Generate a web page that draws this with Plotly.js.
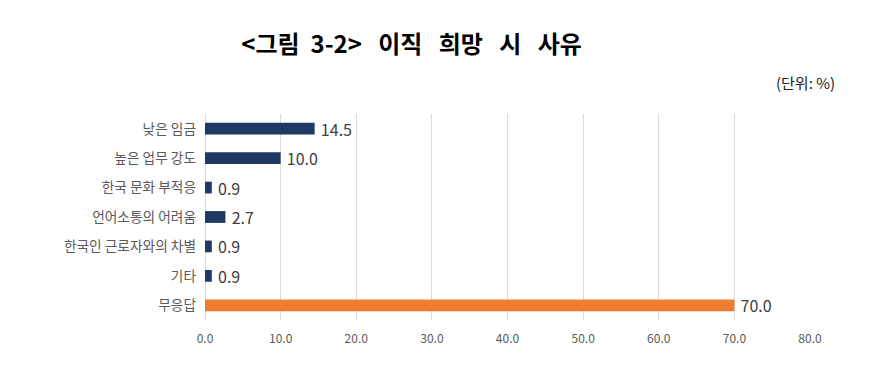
<!DOCTYPE html>
<html><head><meta charset="utf-8">
<script src="https://cdn.plot.ly/plotly-3.0.1.min.js"></script>
<style>body{margin:0;background:#fff}#c{width:872px;height:369px}</style>
</head><body><div id="c"></div>
<script>
var categories = ["낮은 임금","높은 업무 강도","한국 문화 부적응","언어소통의 어려움","한국인 근로자와의 차별","기타","무응답"];
var values = [14.5, 10.0, 0.9, 2.7, 0.9, 0.9, 70.0];
var tickVals = [0,10,20,30,40,50,60,70,80];
var tickText = ["0.0","10.0","20.0","30.0","40.0","50.0","60.0","70.0","80.0"];
var colors = values.map(function(v,i){return i===6?"#ED7D31":"#1F3864";});
var font = "Noto Sans CJK KR, sans-serif";
Plotly.newPlot("c",[{
  type:"bar", orientation:"h", y:categories, x:values,
  marker:{color:colors},
  width:0.4,
  text:values.map(function(v){return "\u2009" + v.toFixed(1);}),
  textposition:"outside", cliponaxis:false, constraintext:"none",
  textfont:{family:font,size:16,color:"#404040"},
  hoverinfo:"none"
}],{
  width:872,height:369,
  margin:{l:205,r:62,t:114,b:49},
  paper_bgcolor:"#fff",plot_bgcolor:"#fff",
  showlegend:false,
  title:{text:"<b><그림&nbsp; 3-2>&nbsp;&nbsp; 이직&nbsp;&nbsp; 희망&nbsp;&nbsp; 시&nbsp;&nbsp; 사유</b>",x:0.472,xanchor:"center",y:0.88,yanchor:"middle",font:{family:font,size:24,color:"#000"}},
  xaxis:{range:[0,80],tickvals:tickVals,ticktext:tickText,showgrid:true,gridcolor:"#D9D9D9",gridwidth:1,zeroline:true,zerolinecolor:"#D9D9D9",showline:false,ticks:"",ticklabelstandoff:10,tickfont:{family:font,size:12,color:"#595959"},fixedrange:true},
  yaxis:{autorange:"reversed",showgrid:false,zeroline:false,showline:false,ticks:"",ticklabelstandoff:8,tickfont:{family:font,size:13.7,color:"#595959"},fixedrange:true},
  annotations:[{text:"(단위: %)",xref:"paper",yref:"paper",x:1.045,y:1.155,xanchor:"right",yanchor:"middle",showarrow:false,font:{family:font,size:15,color:"#222"}}],
  bargap:0.6
},{displayModeBar:false,staticPlot:true});
</script></body></html>
